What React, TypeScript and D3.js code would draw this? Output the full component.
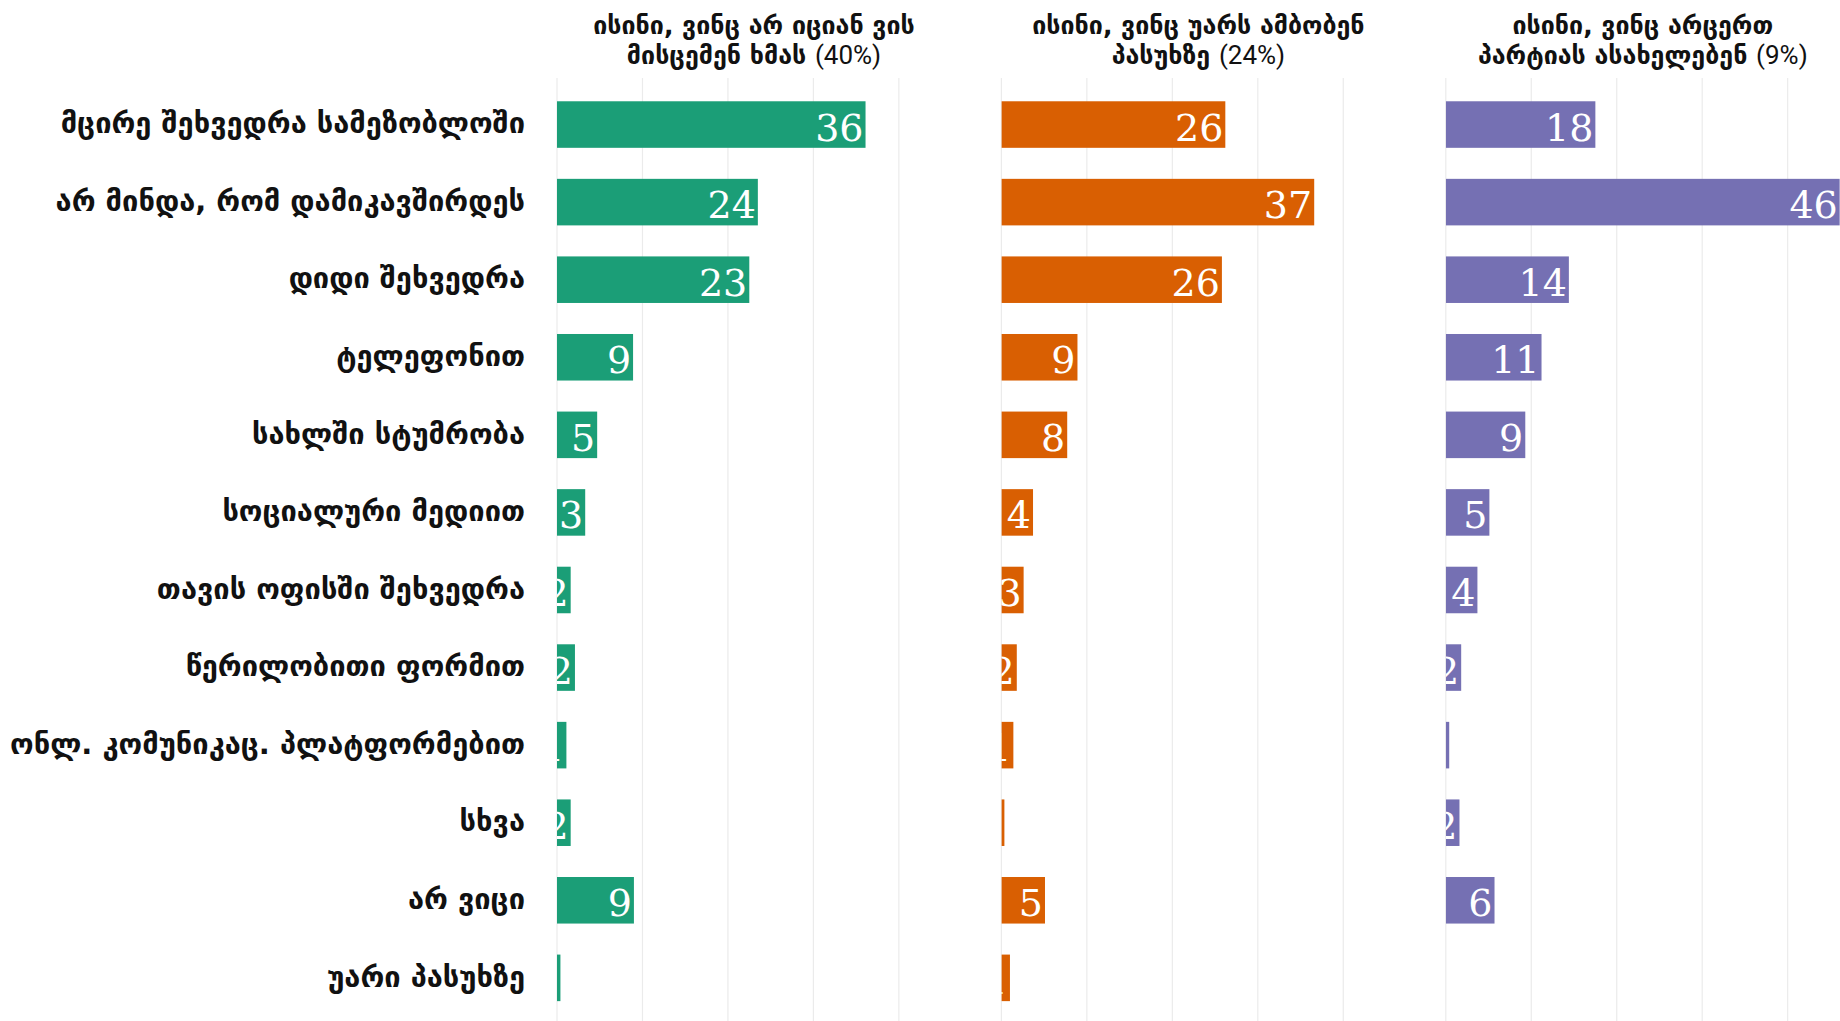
import React, { useEffect, useRef } from "react";
import * as d3 from "d3";

const categories = [
  "მცირე შეხვედრა სამეზობლოში",
  "არ მინდა, რომ დამიკავშირდეს",
  "დიდი შეხვედრა",
  "ტელეფონით",
  "სახლში სტუმრობა",
  "სოციალური მედიით",
  "თავის ოფისში შეხვედრა",
  "წერილობითი ფორმით",
  "ონლ. კომუნიკაც. პლატფორმებით",
  "სხვა",
  "არ ვიცი",
  "უარი პასუხზე",
];

const groupTitles = [
  ["ისინი, ვინც არ იციან ვის", "მისცემენ ხმას", "(40%)"],
  ["ისინი, ვინც უარს ამბობენ", "პასუხზე", "(24%)"],
  ["ისინი, ვინც არცერთ", "პარტიას ასახელებენ", "(9%)"],
];

const undecidedValues = [36.1, 23.5, 22.5, 8.9, 4.7, 3.3, 1.6, 2.1, 1.1, 1.6, 9.0, 0.4];
const refusedValues = [26.2, 36.6, 25.8, 8.9, 7.7, 3.7, 2.6, 1.8, 1.4, 0.35, 5.1, 1.0];
const noPartyValues = [17.5, 46.1, 14.4, 11.2, 9.3, 5.1, 3.7, 1.8, 0.4, 1.6, 5.7, 0];

const seriesValues = [undecidedValues, refusedValues, noPartyValues];
const colors = ["#1b9e77", "#d95f02", "#7570b3"];
const gridTicks = [0, 10, 20, 30, 40];

const W = 1840;
const H = 1021;

export default function App() {
  const ref = useRef<SVGSVGElement | null>(null);

  useEffect(() => {
    const svg = d3.select(ref.current);
    svg.selectAll("*").remove();

    const panelLeft = 557;
    const panelWidth = 394;
    const panelGap = 444.4;
    const top = 78;
    const bottom = 1024.4;

    const x = d3.scaleLinear().domain([0, 46.1]).range([0, panelWidth]);
    const y = d3
      .scaleBand<string>()
      .domain(categories)
      .range([top, bottom])
      .paddingInner(0.4)
      .paddingOuter(0.3);

    // category labels
    svg
      .append("g")
      .selectAll("text")
      .data(categories)
      .join("text")
      .attr("x", 525)
      .attr("y", (d) => (y(d) as number) + y.bandwidth() / 2)
      .attr("dy", "0.3em")
      .attr("text-anchor", "end")
      .attr("font-family", "'DejaVu Sans'")
      .attr("font-weight", "bold")
      .attr("font-size", 29)
      .attr("fill", "#111")
      .text((d) => d);

    seriesValues.forEach((vals, i) => {
      const x0 = panelLeft + i * panelGap;
      const g = svg.append("g").attr("transform", `translate(${x0},0)`);
      const clipId = `clip-${i}`;
      svg
        .append("defs")
        .append("clipPath")
        .attr("id", clipId)
        .append("rect")
        .attr("x", 0)
        .attr("y", top)
        .attr("width", panelWidth)
        .attr("height", bottom - top);

      // grid
      g.append("g")
        .selectAll("line")
        .data(gridTicks)
        .join("line")
        .attr("x1", (d) => x(d))
        .attr("x2", (d) => x(d))
        .attr("y1", top)
        .attr("y2", bottom)
        .attr("stroke", "#ebebeb")
        .attr("stroke-width", 1.2);

      const rows = categories.map((c, j) => ({ c, v: vals[j] }));

      const inner = g.append("g").attr("clip-path", `url(#${clipId})`);
      inner
        .selectAll("rect")
        .data(rows)
        .join("rect")
        .attr("x", x(0))
        .attr("y", (d) => y(d.c) as number)
        .attr("width", (d) => x(d.v) - x(0))
        .attr("height", y.bandwidth())
        .attr("fill", colors[i]);

      inner
        .selectAll("text")
        .data(rows)
        .join("text")
        .attr("x", (d) => x(d.v) - 2)
        .attr("y", (d) => (y(d.c) as number) + y.bandwidth() / 2 + 16)
        .attr("text-anchor", "end")
        .attr("font-family", "'DejaVu Serif'")
        .attr("font-size", 38)
        .attr("fill", "#ffffff")
        .text((d) => String(Math.round(d.v)));

      // header
      const cx = x0 + panelWidth / 2;
      const t = groupTitles[i];
      const h = svg
        .append("text")
        .attr("text-anchor", "middle")
        .attr("font-family", "'DejaVu Sans'")
        .attr("font-size", 25)
        .attr("fill", "#111");
      h.append("tspan").attr("x", cx).attr("y", 34).attr("font-weight", "bold").text(t[0]);
      const l2 = h.append("tspan").attr("x", cx).attr("y", 64);
      l2.append("tspan").attr("font-weight", "bold").text(t[1] + " ");
      l2.append("tspan").attr("font-family", "Roboto").attr("font-size", 26).text(t[2]);
    });
  }, []);

  return (
    <svg
      ref={ref}
      width={W}
      height={H}
      style={{ position: "absolute", left: 0, top: 0, background: "#fff" }}
    />
  );
}
